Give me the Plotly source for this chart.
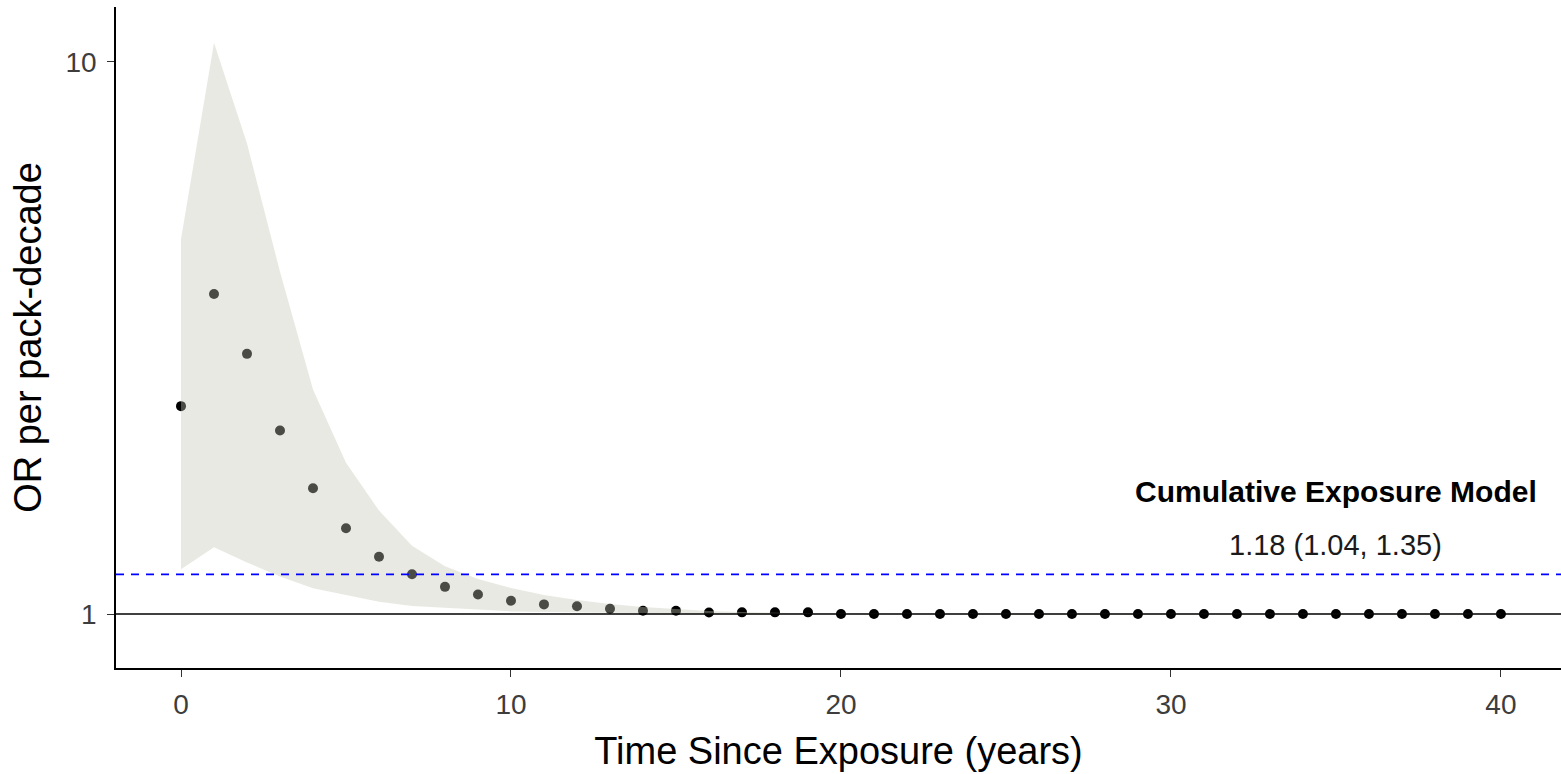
import numpy as np
import plotly.graph_objects as go

# Time since exposure (years)
years = list(range(0, 41))

# Odds ratio per pack-decade by time since exposure
odds_ratio = [2.38, 3.80, 2.96, 2.15, 1.69, 1.43, 1.27, 1.18, 1.12, 1.085,
              1.057, 1.041, 1.033, 1.022, 1.014, 1.014, 1.006, 1.007, 1.007, 1.007] + [1.0] * 21

# Pointwise 95% confidence band
ci_upper = [4.78, 10.84, 7.12, 4.17, 2.55, 1.88, 1.54, 1.33, 1.22, 1.157,
            1.115, 1.082, 1.060, 1.043, 1.030, 1.021, 1.013, 1.008, 1.004, 1.003] + [1.002] * 21
ci_lower = [1.205, 1.321, 1.24, 1.169, 1.113, 1.082, 1.053, 1.034, 1.024, 1.018,
            1.011, 1.008, 1.006, 1.004, 1.003, 1.002, 1.0] + [0.998] * 24

# Cumulative exposure model estimate
cum_or = 1.18
cum_lo = 1.04
cum_hi = 1.35
null_value = 1.0

x_ticks = [0, 10, 20, 30, 40]
y_ticks = [1, 10]
y_ticktext = ["1", "10"]

FONT = "Liberation Sans, Arial, sans-serif"

fig = go.Figure()

# Point estimates (drawn first so the translucent band tints them)
fig.add_trace(go.Scatter(
    x=years, y=odds_ratio, mode="markers",
    marker=dict(color="black", size=10, line=dict(width=0)),
    hoverinfo="skip", showlegend=False,
))

# Confidence band as a closed polygon
fig.add_trace(go.Scatter(
    x=years + years[::-1],
    y=ci_upper + ci_lower[::-1],
    mode="lines", fill="toself",
    fillcolor="rgba(196,196,182,0.38)",
    line=dict(width=0),
    hoverinfo="skip", showlegend=False,
))

# Null line and cumulative-model reference line
fig.add_shape(type="line", xref="paper", x0=0, x1=1, yref="y",
              y0=null_value, y1=null_value,
              line=dict(color="black", width=1.5))
fig.add_shape(type="line", xref="paper", x0=0, x1=1, yref="y",
              y0=cum_or, y1=cum_or,
              line=dict(color="#0000ff", width=1.6, dash="8px,7px"))

fig.add_annotation(
    x=35, y=np.log10(1.665), xref="x", yref="y",
    text="<b>Cumulative Exposure Model</b>", showarrow=False,
    font=dict(family=FONT, size=30, color="black"),
)
fig.add_annotation(
    x=35, y=np.log10(1.335), xref="x", yref="y",
    text=f"{cum_or:.2f} ({cum_lo:.2f}, {cum_hi:.2f})", showarrow=False,
    font=dict(family=FONT, size=29, color="#1a1a1a"),
)

fig.update_layout(
    width=1561, height=774,
    margin=dict(l=116, r=0, t=7, b=106),
    paper_bgcolor="white", plot_bgcolor="white",
    font=dict(family=FONT),
    showlegend=False,
)

fig.update_xaxes(
    range=[-1.97, 41.82],
    tickvals=x_ticks,
    showgrid=False, zeroline=False,
    showline=True, linecolor="black", linewidth=1.5,
    ticks="outside", ticklen=7, tickwidth=1.3, tickcolor="#333333",
    ticklabelstandoff=4,
    tickfont=dict(family=FONT, size=28, color="#3d3d3d"),
    title=dict(text="Time Since Exposure (years)",
               font=dict(family=FONT, size=38, color="black"),
               standoff=18),
)

fig.update_yaxes(
    type="log",
    range=[-0.0978, 1.0996],
    tickvals=y_ticks, ticktext=y_ticktext,
    showgrid=False, zeroline=False,
    showline=True, linecolor="black", linewidth=1.5,
    ticks="outside", ticklen=7, tickwidth=1.3, tickcolor="#333333",
    ticklabelstandoff=5,
    tickfont=dict(family=FONT, size=28, color="#3d3d3d"),
    title=dict(text="OR per pack-decade",
               font=dict(family=FONT, size=38, color="black"),
               standoff=12),
)

fig.write_html("out.html")
